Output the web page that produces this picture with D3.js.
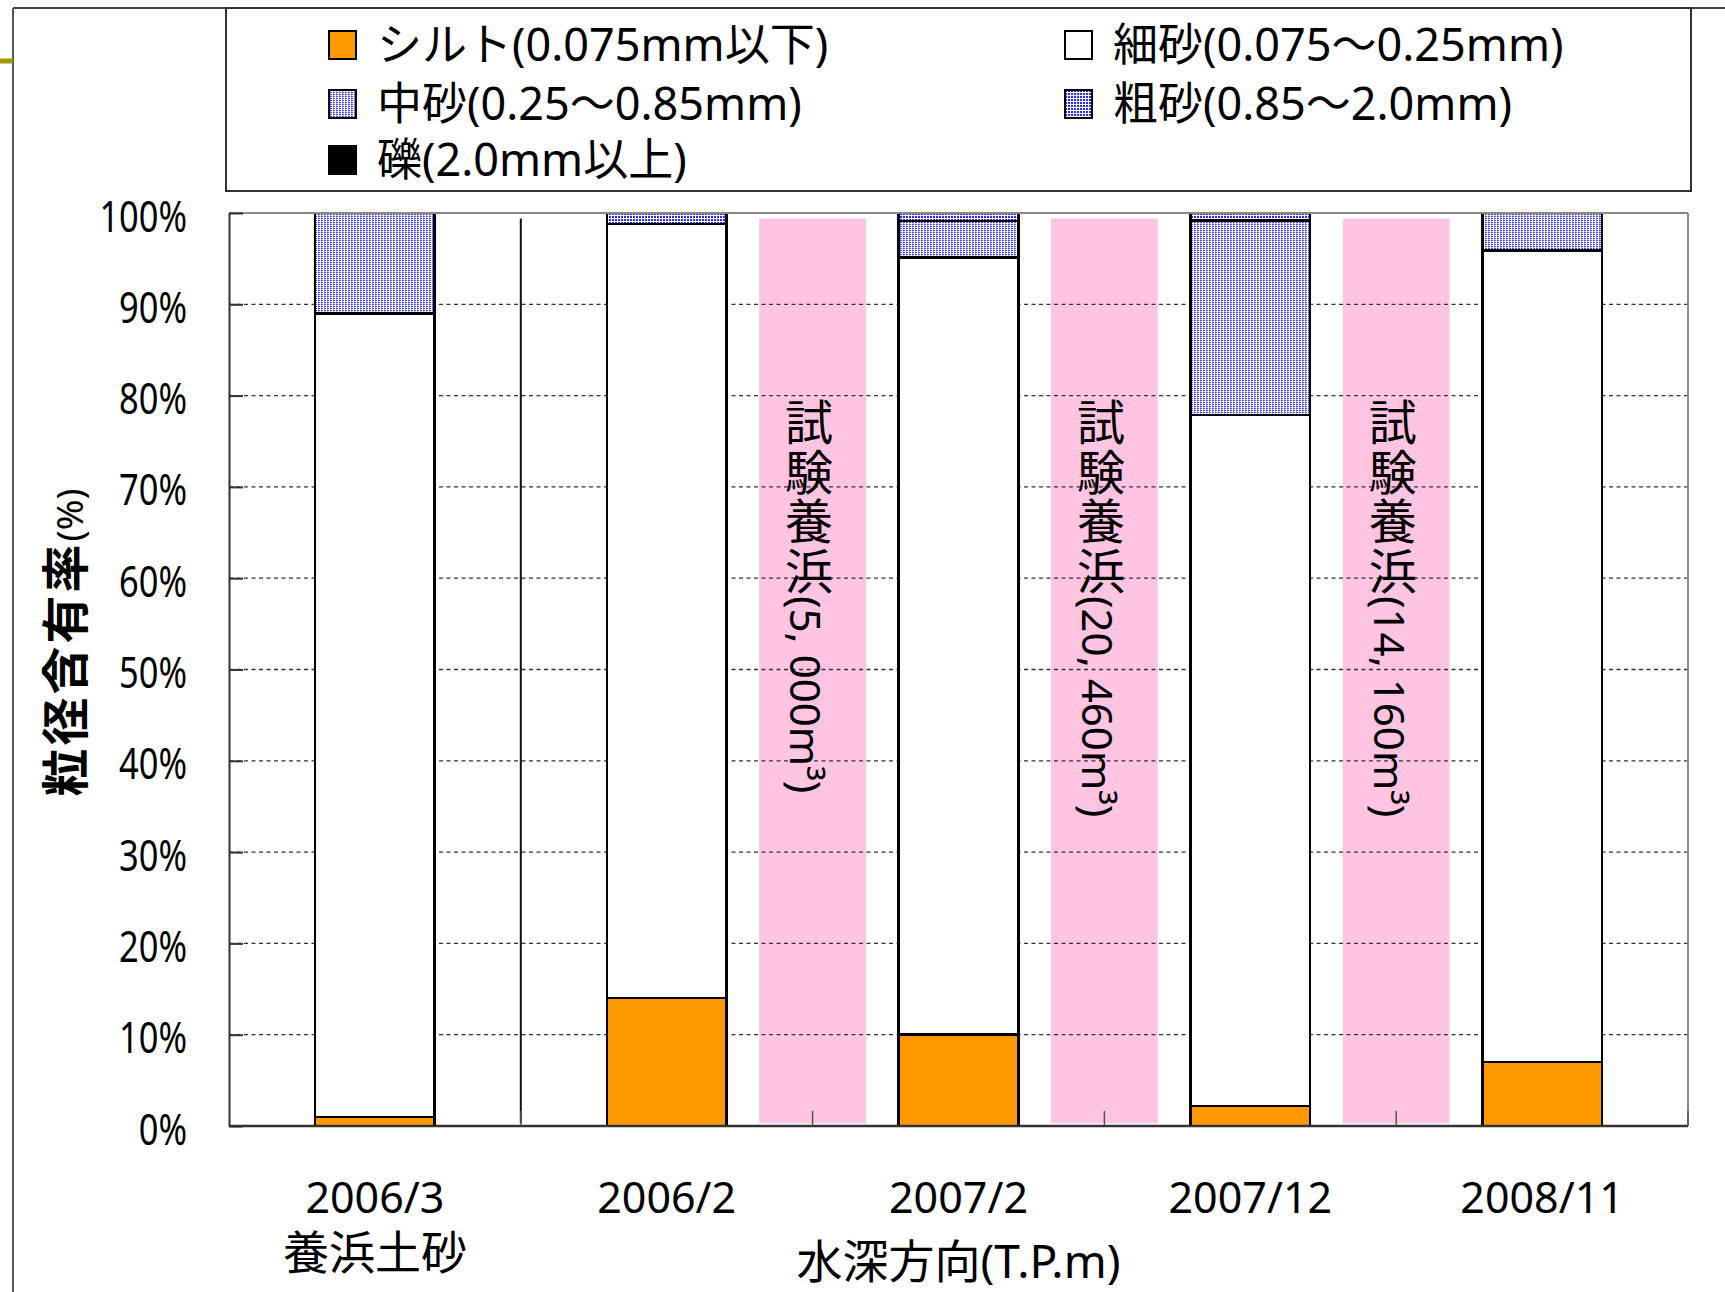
<!DOCTYPE html>
<html>
<head>
<meta charset="utf-8">
<script src="https://cdn.jsdelivr.net/npm/d3@7"></script>
<style>
  html, body { margin: 0; padding: 0; background: #fff; }
  svg { display: block; }
  text { font-family: "Noto Sans", "Noto Sans CJK JP", sans-serif; fill: #000; }
</style>
</head>
<body>
<svg id="chart" width="1725" height="1292"></svg>
<script>
// Survey dates (category axis) and the extra caption under the first one
const categories = ["2006/3", "2006/2", "2007/2", "2007/12", "2008/11"];
const subLabels  = ["養浜土砂", "", "", "", ""];

// Grain-size content (%) per survey, stacked from bottom to top
const silt   = [1.0, 14.0, 10.0, 2.2, 7.0];
const fine   = [88.0, 84.8, 85.1, 75.7, 88.9];
const medium = [11.0, 0.0, 4.0, 21.3, 4.1];
const coarse = [0.0, 1.2, 0.9, 0.8, 0.0];
const gravel = [0.0, 0.0, 0.0, 0.0, 0.0];

const seriesKeys  = ["silt", "fine", "medium", "coarse", "gravel"];
const seriesNames = ["シルト(0.075mm以下)", "細砂(0.075～0.25mm)", "中砂(0.25～0.85mm)", "粗砂(0.85～2.0mm)", "礫(2.0mm以上)"];

// Percent axis ticks
const yTicks = [0, 10, 20, 30, 40, 50, 60, 70, 80, 90, 100];

// Trial beach nourishment events, placed at the start of the survey that followed them
const nourishBefore = ["2007/2", "2007/12", "2008/11"];
const nourishTitle  = "試験養浜";
const nourishVolume = ["(5, 000m³)", "(20, 460m³)", "(14, 160m³)"];
const nourishSpan   = [0.3, 99.4];   // vertical extent of the shaded bands (%)
const dividerBefore = "2006/2";      // separates the fill-material sample from field surveys

const xTitle = "水深方向(T.P.m)";
const yTitle = "粒径含有率";
const yUnit  = "(%)";

// ---------------------------------------------------------------
const svg = d3.select("#chart");
const plot = { left: 229, right: 1688, top: 213, bottom: 1126 };

const x = d3.scaleBand().domain(categories).range([plot.left, plot.right]).padding(0);
const y = d3.scaleLinear().domain([0, 100]).range([plot.bottom, plot.top]);
const bw = x.bandwidth();
const barW = bw * 0.41;
const bandW = bw * 0.366;

// fills
const defs = svg.append("defs");
const pMed = defs.append("pattern").attr("id", "pat-medium")
  .attr("patternUnits", "userSpaceOnUse").attr("width", 3).attr("height", 2);
pMed.append("rect").attr("width", 3).attr("height", 2).attr("fill", "#fff");
pMed.append("rect").attr("width", 2).attr("height", 1).attr("fill", "#4a4aff");
pMed.append("rect").attr("y", 1).attr("width", 1).attr("height", 1).attr("fill", "#a8a8ff");

const pCoarse = defs.append("pattern").attr("id", "pat-coarse")
  .attr("patternUnits", "userSpaceOnUse").attr("width", 3).attr("height", 3);
pCoarse.append("rect").attr("width", 3).attr("height", 3).attr("fill", "#fff");
pCoarse.append("rect").attr("width", 2).attr("height", 2).attr("fill", "#2a2aff");

const fills = {
  silt: "#ff9900",
  fine: "#ffffff",
  medium: "url(#pat-medium)",
  coarse: "url(#pat-coarse)",
  gravel: "#000000"
};

// outer frame
svg.append("line").attr("x1", 13).attr("x2", 1725).attr("y1", 8).attr("y2", 8)
  .attr("stroke", "#444").attr("stroke-width", 2);
svg.append("line").attr("x1", 13).attr("x2", 13).attr("y1", 8).attr("y2", 1292)
  .attr("stroke", "#555").attr("stroke-width", 2);
svg.append("line").attr("x1", 0).attr("x2", 13).attr("y1", 61).attr("y2", 61)
  .attr("stroke", "#9c9a00").attr("stroke-width", 5);

// shaded nourishment bands
svg.append("g").selectAll("rect").data(nourishBefore).join("rect")
  .attr("x", d => x(d) - bandW / 2)
  .attr("width", bandW)
  .attr("y", y(nourishSpan[1]))
  .attr("height", y(nourishSpan[0]) - y(nourishSpan[1]))
  .attr("fill", "#ffc4e2");

// dashed gridlines
svg.append("g").selectAll("line").data(yTicks.filter(t => t > 0 && t < 100)).join("line")
  .attr("x1", plot.left).attr("x2", plot.right)
  .attr("y1", d => y(d)).attr("y2", d => y(d))
  .attr("stroke", "#333").attr("stroke-width", 1.3).attr("stroke-dasharray", "4,3.5");

// divider
svg.append("line")
  .attr("x1", x(dividerBefore)).attr("x2", x(dividerBefore))
  .attr("y1", y(nourishSpan[1])).attr("y2", y(nourishSpan[0]))
  .attr("stroke", "#111").attr("stroke-width", 2);

// stacked bars
const rows = categories.map((c, i) => ({
  cat: c, silt: silt[i], fine: fine[i], medium: medium[i], coarse: coarse[i], gravel: gravel[i]
}));
const stacked = d3.stack().keys(seriesKeys)(rows);
const barG = svg.append("g");
stacked.forEach(layer => {
  barG.append("g").selectAll("rect")
    .data(layer.filter(d => d[1] - d[0] > 0))
    .join("rect")
    .attr("x", d => x(d.data.cat) + (bw - barW) / 2)
    .attr("width", barW)
    .attr("y", d => y(d[1]))
    .attr("height", d => y(d[0]) - y(d[1]))
    .attr("fill", fills[layer.key])
    .attr("stroke", "#000").attr("stroke-width", 2.5)
    .attr("shape-rendering", "crispEdges");
});

// plot border (top / right)
svg.append("line").attr("x1", plot.left).attr("x2", plot.right).attr("y1", plot.top).attr("y2", plot.top)
  .attr("stroke", "#8a8a8a").attr("stroke-width", 2);
svg.append("line").attr("x1", plot.right).attr("x2", plot.right).attr("y1", plot.top).attr("y2", plot.bottom)
  .attr("stroke", "#8a8a8a").attr("stroke-width", 2);

// y axis
const yAxis = svg.append("g").attr("transform", `translate(${plot.left},0)`)
  .call(d3.axisLeft(y).tickValues(yTicks).tickSize(-14).tickSizeOuter(0).tickPadding(42)
    .tickFormat(d => d + "%"));
yAxis.select(".domain").attr("stroke", "#333").attr("stroke-width", 2);
yAxis.selectAll(".tick line").attr("stroke", "#333").attr("stroke-width", 2);
yAxis.selectAll(".tick text")
  .attr("font-family", null).attr("font-size", null)
  .style("font-size", "43px")
  .attr("x", -42 / 0.8)
  .attr("dy", "0.42em")
  .attr("transform", "scale(0.8,1)");

// x axis line and boundary ticks
const boundaries = categories.slice(1).map(c => x(c)).concat([plot.right]);
svg.append("line").attr("x1", plot.left).attr("x2", plot.right).attr("y1", plot.bottom).attr("y2", plot.bottom)
  .attr("stroke", "#333").attr("stroke-width", 2.5);
svg.append("g").selectAll("line").data(boundaries).join("line")
  .attr("x1", d => d).attr("x2", d => d)
  .attr("y1", plot.bottom).attr("y2", plot.bottom - 15)
  .attr("stroke", "#555").attr("stroke-width", 1.5);

// category labels (date, plus an optional second caption line)
const catText = svg.append("g").selectAll("text").data(categories).join("text")
  .attr("text-anchor", "middle");
catText.append("tspan")
  .attr("x", d => x(d) + bw / 2).attr("y", 1213)
  .style("font-size", "43px")
  .text(d => d);
catText.filter((d, i) => subLabels[i]).append("tspan")
  .attr("x", d => x(d) + bw / 2).attr("y", 1269)
  .style("font-family", "'Noto Sans CJK JP', sans-serif")
  .style("font-size", "46px")
  .text(d => subLabels[categories.indexOf(d)]);

// axis titles
svg.append("text")
  .attr("x", (plot.left + plot.right) / 2).attr("y", 1278)
  .attr("text-anchor", "middle").style("font-size", "46px")
  .text(xTitle);

const yt = svg.append("text")
  .attr("transform", `translate(83,${(plot.top + plot.bottom) / 2 - 27}) rotate(-90)`)
  .attr("text-anchor", "middle");
yt.append("tspan").style("font-size", "48px").style("font-weight", "bold").style("letter-spacing", "3px").text(yTitle);
yt.append("tspan").style("font-size", "37px").text(yUnit);

// nourishment labels (vertical writing)
const nt = svg.append("g").selectAll("text").data(nourishBefore).join("text")
  .attr("x", d => x(d) - 6).attr("y", 398)
  .style("writing-mode", "vertical-rl");
nt.append("tspan").style("font-size", "48px").style("letter-spacing", "1.5px").text(nourishTitle);
nt.append("tspan").style("font-size", "42px").text((d, i) => nourishVolume[i]);

// legend
const leg = svg.append("g");
leg.append("rect").attr("x", 226).attr("y", 8).attr("width", 1691 - 226).attr("height", 191 - 8)
  .attr("fill", "none").attr("stroke", "#333").attr("stroke-width", 2);
const legPos = [
  { col: 0, row: 0 }, { col: 1, row: 0 },
  { col: 0, row: 1 }, { col: 1, row: 1 },
  { col: 0, row: 2 }
];
const legendOrder = ["silt", "fine", "medium", "coarse", "gravel"];
const colX = [329, 1065];
const rowBase = [61, 120, 176];
legendOrder.forEach((k, i) => {
  const p = legPos[i];
  const g = leg.append("g");
  g.append("rect")
    .attr("x", colX[p.col]).attr("y", rowBase[p.row] - 30)
    .attr("width", 27).attr("height", 28)
    .attr("fill", fills[k]).attr("stroke", "#000").attr("stroke-width", 2);
  g.append("text")
    .attr("x", colX[p.col] + 48).attr("y", rowBase[p.row])
    .style("font-size", "45px")
    .text(seriesNames[seriesKeys.indexOf(k)]);
});
</script>
</body>
</html>
